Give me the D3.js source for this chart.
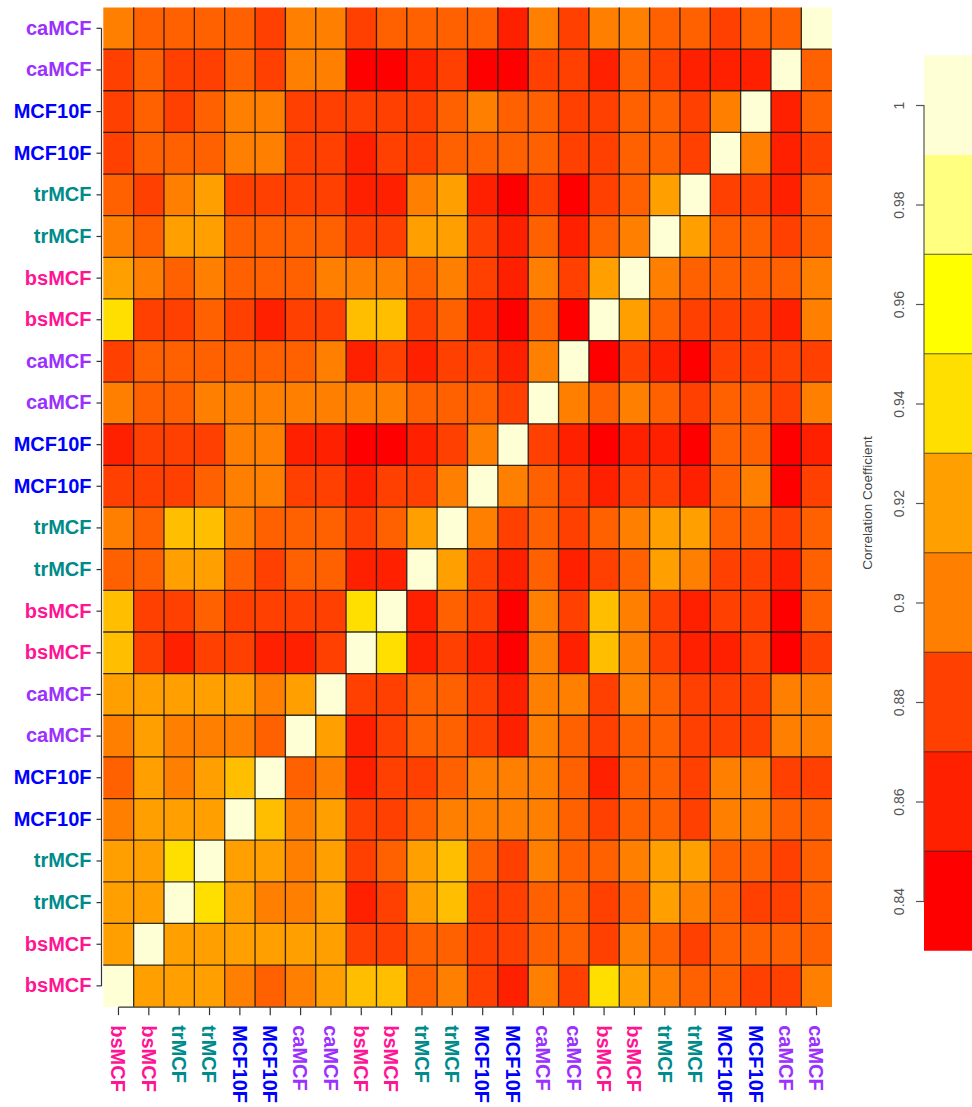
<!DOCTYPE html>
<html>
<head>
<meta charset="utf-8">
<script src="https://cdn.jsdelivr.net/npm/d3@7"></script>
<style>
  html, body { margin: 0; padding: 0; background: #ffffff; }
  svg { display: block; }
</style>
</head>
<body>
<svg id="chart" width="972" height="1107"></svg>
<script>
// Sample labels, top to bottom (rows) and left to right (columns)
const rowLabels = [
  "caMCF", "caMCF", "MCF10F", "MCF10F", "trMCF", "trMCF", "bsMCF", "bsMCF",
  "caMCF", "caMCF", "MCF10F", "MCF10F", "trMCF", "trMCF", "bsMCF", "bsMCF",
  "caMCF", "caMCF", "MCF10F", "MCF10F", "trMCF", "trMCF", "bsMCF", "bsMCF"
];
const colLabels = [
  "bsMCF", "bsMCF", "trMCF", "trMCF", "MCF10F", "MCF10F", "caMCF", "caMCF",
  "bsMCF", "bsMCF", "trMCF", "trMCF", "MCF10F", "MCF10F", "caMCF", "caMCF",
  "bsMCF", "bsMCF", "trMCF", "trMCF", "MCF10F", "MCF10F", "caMCF", "caMCF"
];

// Pairwise correlation coefficients, one array per row (top to bottom)
const corr = [
  [0.900,0.885,0.885,0.885,0.885,0.875,0.900,0.900,0.875,0.885,0.885,0.885, 0.885,0.860,0.900,0.875,0.900,0.900,0.885,0.885,0.875,0.885,0.885,1.000],
  [0.875,0.885,0.875,0.875,0.885,0.875,0.900,0.900,0.840,0.840,0.860,0.875, 0.840,0.840,0.875,0.875,0.860,0.885,0.875,0.860,0.860,0.860,1.000,0.885],
  [0.875,0.885,0.875,0.885,0.900,0.900,0.875,0.875,0.875,0.875,0.875,0.885, 0.900,0.885,0.885,0.875,0.875,0.885,0.885,0.875,0.900,1.000,0.860,0.885],
  [0.875,0.885,0.885,0.885,0.900,0.900,0.875,0.875,0.860,0.875,0.875,0.885, 0.885,0.885,0.885,0.875,0.875,0.885,0.885,0.875,1.000,0.900,0.860,0.875],
  [0.885,0.875,0.900,0.920,0.875,0.875,0.875,0.875,0.860,0.860,0.900,0.920, 0.860,0.840,0.875,0.840,0.875,0.885,0.920,1.000,0.875,0.875,0.860,0.885],
  [0.900,0.885,0.920,0.920,0.885,0.885,0.885,0.885,0.875,0.875,0.920,0.920, 0.875,0.860,0.885,0.860,0.885,0.900,1.000,0.920,0.885,0.885,0.875,0.885],
  [0.920,0.900,0.885,0.900,0.885,0.885,0.885,0.900,0.900,0.900,0.885,0.900, 0.875,0.860,0.900,0.875,0.920,1.000,0.900,0.885,0.885,0.885,0.885,0.900],
  [0.945,0.875,0.875,0.885,0.875,0.860,0.875,0.875,0.935,0.935,0.875,0.885, 0.860,0.840,0.885,0.840,1.000,0.920,0.885,0.875,0.875,0.875,0.860,0.900],
  [0.875,0.885,0.885,0.885,0.885,0.885,0.885,0.900,0.860,0.875,0.860,0.875, 0.875,0.860,0.900,1.000,0.840,0.875,0.860,0.840,0.875,0.875,0.875,0.875],
  [0.900,0.885,0.885,0.900,0.900,0.900,0.900,0.900,0.900,0.900,0.885,0.885, 0.885,0.875,1.000,0.900,0.885,0.900,0.885,0.875,0.885,0.885,0.875,0.900],
  [0.860,0.875,0.875,0.875,0.900,0.900,0.860,0.860,0.840,0.840,0.860,0.875, 0.900,1.000,0.875,0.860,0.840,0.860,0.860,0.840,0.885,0.885,0.840,0.860],
  [0.875,0.875,0.875,0.885,0.900,0.900,0.875,0.875,0.860,0.875,0.875,0.900, 1.000,0.900,0.885,0.875,0.860,0.875,0.875,0.860,0.885,0.900,0.840,0.875],
  [0.900,0.885,0.935,0.935,0.900,0.885,0.885,0.885,0.875,0.885,0.920,1.000, 0.900,0.875,0.885,0.875,0.885,0.900,0.920,0.920,0.885,0.885,0.875,0.885],
  [0.885,0.885,0.920,0.920,0.885,0.875,0.885,0.885,0.860,0.860,1.000,0.920, 0.875,0.860,0.885,0.860,0.875,0.885,0.920,0.900,0.875,0.875,0.860,0.885],
  [0.935,0.875,0.875,0.885,0.875,0.875,0.875,0.875,0.945,1.000,0.860,0.885, 0.875,0.840,0.900,0.875,0.935,0.900,0.875,0.860,0.875,0.875,0.840,0.885],
  [0.935,0.875,0.860,0.875,0.875,0.860,0.860,0.875,1.000,0.945,0.860,0.875, 0.860,0.840,0.900,0.860,0.935,0.900,0.875,0.860,0.860,0.875,0.840,0.875],
  [0.920,0.920,0.920,0.920,0.920,0.900,0.920,1.000,0.875,0.875,0.885,0.885, 0.875,0.860,0.900,0.900,0.875,0.900,0.885,0.875,0.875,0.875,0.900,0.900],
  [0.900,0.920,0.900,0.900,0.900,0.885,1.000,0.920,0.860,0.875,0.885,0.885, 0.875,0.860,0.900,0.885,0.875,0.885,0.885,0.875,0.875,0.875,0.900,0.900],
  [0.885,0.920,0.900,0.920,0.935,1.000,0.885,0.900,0.860,0.875,0.875,0.885, 0.900,0.900,0.900,0.885,0.860,0.885,0.885,0.875,0.900,0.900,0.875,0.875],
  [0.900,0.920,0.920,0.920,1.000,0.935,0.900,0.920,0.875,0.875,0.885,0.900, 0.900,0.900,0.900,0.885,0.875,0.885,0.885,0.875,0.900,0.900,0.885,0.885],
  [0.920,0.920,0.945,1.000,0.920,0.920,0.900,0.920,0.875,0.885,0.920,0.935, 0.885,0.875,0.900,0.885,0.885,0.900,0.920,0.920,0.885,0.885,0.875,0.885],
  [0.920,0.920,1.000,0.945,0.920,0.900,0.900,0.920,0.860,0.875,0.920,0.935, 0.875,0.875,0.885,0.885,0.875,0.885,0.920,0.900,0.885,0.875,0.875,0.885],
  [0.920,1.000,0.920,0.920,0.920,0.920,0.920,0.920,0.875,0.875,0.885,0.885, 0.875,0.875,0.885,0.885,0.875,0.900,0.885,0.875,0.885,0.885,0.885,0.885],
  [1.000,0.920,0.920,0.920,0.900,0.885,0.900,0.920,0.935,0.935,0.885,0.900, 0.875,0.860,0.900,0.875,0.945,0.920,0.900,0.885,0.885,0.875,0.875,0.900]
];

// Cell colour bins (heat palette)
const cellBreaks = [0.85, 0.87, 0.88, 0.89, 0.91, 0.93, 0.94, 0.97];
const cellColors = ["#FF0000", "#FF2000", "#FF4000", "#FF6000", "#FF8000", "#FF9F00", "#FFBF00", "#FFDF00", "#FFFFD5"];

// Colour key bins, bottom to top
const keyBreaks = [0.83, 0.85, 0.87, 0.89, 0.91, 0.93, 0.95, 0.97, 0.99, 1.01];
const keyColors = ["#FF0000", "#FF2000", "#FF4000", "#FF8000", "#FF9F00", "#FFDF00", "#FFFF00", "#FFFF80", "#FFFFD5"];
const keyTicks = [0.84, 0.86, 0.88, 0.90, 0.92, 0.94, 0.96, 0.98, 1];

const groupColors = { caMCF: "#9B30FF", MCF10F: "#0000FF", trMCF: "#008B8B", bsMCF: "#FF1493" };

const svg = d3.select("#chart");
svg.append("rect").attr("width", 972).attr("height", 1107).attr("fill", "#ffffff");

const x = d3.scaleBand().domain(d3.range(colLabels.length)).range([103.3, 831.7]);
const y = d3.scaleBand().domain(d3.range(rowLabels.length)).range([7.5, 1006.7]);
const color = d3.scaleThreshold().domain(cellBreaks).range(cellColors);

// Heatmap cells
const cells = [];
corr.forEach((row, r) => row.forEach((v, c) => cells.push({ r, c, v })));
svg.append("g")
  .selectAll("rect")
  .data(cells)
  .join("rect")
  .attr("x", d => x(d.c))
  .attr("y", d => y(d.r))
  .attr("width", x.bandwidth() + 0.3)
  .attr("height", y.bandwidth() + 0.3)
  .attr("fill", d => color(d.v));

// Internal grid lines between cells
const grid = svg.append("g").attr("stroke", "#111").attr("stroke-width", 1.3).attr("stroke-opacity", 0.85);
grid.selectAll("line.v")
  .data(d3.range(1, colLabels.length))
  .join("line")
  .attr("class", "v")
  .attr("x1", i => x(i)).attr("x2", i => x(i))
  .attr("y1", y.range()[0]).attr("y2", y.range()[1]);
grid.selectAll("line.h")
  .data(d3.range(1, rowLabels.length))
  .join("line")
  .attr("class", "h")
  .attr("y1", i => y(i)).attr("y2", i => y(i))
  .attr("x1", x.range()[0]).attr("x2", x.range()[1]);

const labelFont = "'Liberation Sans', Arial, sans-serif";

// Left axis with row labels
const yAxisX = 101.5;
const gy = svg.append("g")
  .attr("transform", `translate(${yAxisX},0)`)
  .call(d3.axisLeft(y).tickSize(5).tickPadding(5).tickSizeOuter(0).tickFormat(i => rowLabels[i]));
gy.select(".domain").remove();
gy.append("line")
  .attr("x1", 0).attr("x2", 0)
  .attr("y1", y(0) + y.bandwidth() / 2)
  .attr("y2", y(rowLabels.length - 1) + y.bandwidth() / 2)
  .attr("stroke", "#333").attr("stroke-width", 1.2);
gy.selectAll(".tick line").attr("stroke", "#333").attr("stroke-width", 1.2);
gy.selectAll(".tick text")
  .attr("font-family", labelFont)
  .attr("font-size", 20)
  .attr("font-weight", "bold")
  .attr("fill", i => groupColors[rowLabels[i]]);

// Bottom axis with rotated column labels
const xAxisY = 1007.2;
const gx = svg.append("g")
  .attr("transform", `translate(0,${xAxisY})`)
  .call(d3.axisBottom(x).tickSize(8).tickSizeOuter(0).tickFormat(i => colLabels[i]));
gx.select(".domain").remove();
gx.append("line")
  .attr("y1", 0).attr("y2", 0)
  .attr("x1", x(0) + x.bandwidth() / 2)
  .attr("x2", x(colLabels.length - 1) + x.bandwidth() / 2)
  .attr("stroke", "#333").attr("stroke-width", 1.2);
gx.selectAll(".tick line").attr("stroke", "#333").attr("stroke-width", 1.2);
gx.selectAll(".tick text")
  .attr("transform", "rotate(90)")
  .attr("x", 18)
  .attr("y", 0)
  .attr("dy", "0.36em")
  .attr("text-anchor", "start")
  .attr("font-family", labelFont)
  .attr("font-size", 20)
  .attr("font-weight", "bold")
  .attr("fill", i => groupColors[colLabels[i]]);

// Colour key
const keyScale = d3.scaleLinear().domain([0.83, 1.01]).range([950.75, 55.25]);
const keyX = 924;
const key = svg.append("g");
key.selectAll("rect")
  .data(keyColors)
  .join("rect")
  .attr("x", keyX)
  .attr("y", (d, i) => keyScale(keyBreaks[i + 1]))
  .attr("width", 60)
  .attr("height", (d, i) => keyScale(keyBreaks[i]) - keyScale(keyBreaks[i + 1]))
  .attr("fill", d => d);
key.selectAll("line.sep")
  .data(keyBreaks.slice(1, -2))
  .join("line")
  .attr("class", "sep")
  .attr("x1", keyX).attr("x2", 980)
  .attr("y1", d => keyScale(d)).attr("y2", d => keyScale(d))
  .attr("stroke", "#000").attr("stroke-opacity", 0.65).attr("stroke-width", 1.2);

const gk = svg.append("g")
  .attr("transform", `translate(${keyX},0)`)
  .call(d3.axisLeft(keyScale).tickValues(keyTicks).tickSize(8).tickFormat(d3.format("")));
gk.select(".domain").remove();
gk.append("line")
  .attr("x1", 0).attr("x2", 0)
  .attr("y1", keyScale(keyTicks[keyTicks.length - 1]))
  .attr("y2", keyScale(keyTicks[0]))
  .attr("stroke", "#555").attr("stroke-width", 1.2);
gk.selectAll(".tick line").attr("stroke", "#555").attr("stroke-width", 1.2);
gk.selectAll(".tick text")
  .attr("transform", "translate(-25,0) rotate(-90)")
  .attr("x", 0)
  .attr("dy", "0.36em")
  .attr("text-anchor", "middle")
  .attr("font-family", labelFont)
  .attr("font-size", 14)
  .attr("fill", "#555");

svg.append("text")
  .attr("transform", `translate(867,${keyScale(0.92)}) rotate(-90)`)
  .attr("dy", "0.36em")
  .attr("text-anchor", "middle")
  .attr("font-family", labelFont)
  .attr("font-size", 13.5)
  .attr("fill", "#444")
  .text("Correlation Coefficient");
</script>
</body>
</html>
